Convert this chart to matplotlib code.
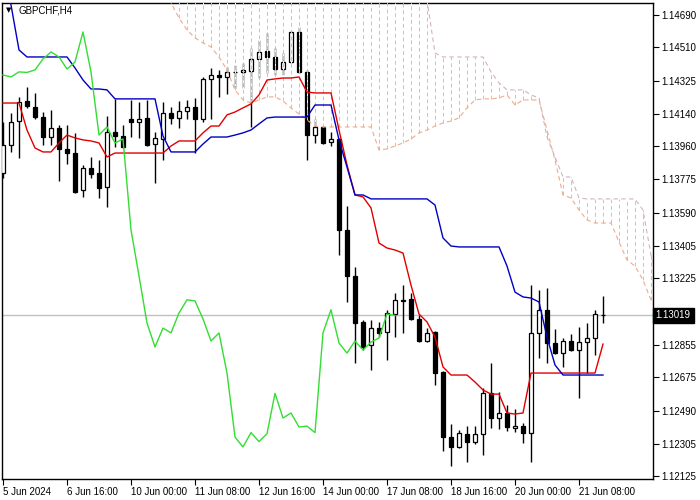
import numpy as np
import matplotlib
matplotlib.use("Agg")
import matplotlib.pyplot as plt
from matplotlib import transforms

# GBPCHF H4 candles
opens = [1.13811, 1.13967, 1.14100, 1.14211, 1.14178, 1.14122, 1.14011, 1.14061, 1.13945, 1.13922,
         1.13717, 1.13839, 1.13811, 1.13733, 1.14039, 1.14017, 1.14111, 1.14095, 1.14117, 1.13972,
         1.14000, 1.14145, 1.14117, 1.14156, 1.14178, 1.14111, 1.14334, 1.14356, 1.14345, 1.14373,
         1.14373, 1.14378, 1.14445, 1.14489, 1.14456, 1.14389, 1.14428, 1.14595, 1.14373, 1.14022,
         1.14067, 1.13984, 1.14000, 1.13495, 1.13239, 1.12983, 1.12855, 1.12949, 1.12927, 1.13027,
         1.13106, 1.13111, 1.13000, 1.12877, 1.12927, 1.12705, 1.12343, 1.12288, 1.12362, 1.12318,
         1.12362, 1.12586, 1.12449, 1.12477, 1.12393, 1.12404, 1.12368, 1.12922, 1.13051, 1.12866,
         1.12810, 1.12877, 1.12827, 1.12871, 1.12894, 1.13024]
highs = [1.14095, 1.14145, 1.14234, 1.14289, 1.14256, 1.14150, 1.14161, 1.14078, 1.14078, 1.14034,
         1.13856, 1.13900, 1.13884, 1.14128, 1.14223, 1.14078, 1.14218, 1.14206, 1.14218, 1.14039,
         1.14206, 1.14178, 1.14211, 1.14218, 1.14228, 1.14345, 1.14395, 1.14384, 1.14400, 1.14412,
         1.14423, 1.14506, 1.14551, 1.14590, 1.14506, 1.14478, 1.14601, 1.14623, 1.14384, 1.14111,
         1.14070, 1.14039, 1.14003, 1.13628, 1.13289, 1.12995, 1.12995, 1.12983, 1.13051, 1.13144,
         1.13188, 1.13144, 1.13022, 1.12949, 1.12930, 1.12708, 1.12416, 1.12384, 1.12407, 1.12407,
         1.12614, 1.12755, 1.12594, 1.12521, 1.12499, 1.12421, 1.13188, 1.13161, 1.13172, 1.12944,
         1.12894, 1.12916, 1.12955, 1.12977, 1.13051, 1.13127]
lows = [1.13783, 1.13928, 1.13895, 1.14173, 1.14111, 1.13967, 1.13967, 1.13768, 1.13861, 1.13700,
        1.13678, 1.13783, 1.13672, 1.13622, 1.13956, 1.13950, 1.14011, 1.14006, 1.13961, 1.13756,
        1.13884, 1.14084, 1.14061, 1.14111, 1.13922, 1.14095, 1.14111, 1.14234, 1.14250, 1.14284,
        1.14284, 1.14067, 1.14339, 1.14367, 1.14356, 1.14356, 1.14423, 1.14367, 1.13884, 1.13978,
        1.13972, 1.13961, 1.13355, 1.13094, 1.12755, 1.12829, 1.12717, 1.12899, 1.12773, 1.12899,
        1.12922, 1.12995, 1.12872, 1.12872, 1.12632, 1.12265, 1.12182, 1.12282, 1.12204, 1.12307,
        1.12246, 1.12393, 1.12388, 1.12377, 1.12371, 1.12310, 1.12204, 1.12783, 1.12755, 1.12805,
        1.12733, 1.12822, 1.12560, 1.12699, 1.12799, 1.12977]
closes = [1.13967, 1.14095, 1.14206, 1.14184, 1.14122, 1.14011, 1.14061, 1.13945, 1.13922, 1.13706,
          1.13839, 1.13806, 1.13728, 1.14039, 1.14017, 1.13956, 1.14095, 1.14111, 1.13967, 1.14006,
          1.14145, 1.14117, 1.14156, 1.14178, 1.14111, 1.14334, 1.14356, 1.14345, 1.14373, 1.14370,
          1.14384, 1.14445, 1.14484, 1.14456, 1.14389, 1.14428, 1.14595, 1.14373, 1.14022, 1.14067,
          1.13978, 1.14000, 1.13495, 1.13239, 1.12977, 1.12844, 1.12949, 1.12922, 1.13033, 1.13106,
          1.13100, 1.13000, 1.12877, 1.12922, 1.12699, 1.12343, 1.12288, 1.12368, 1.12318, 1.12362,
          1.12586, 1.12449, 1.12477, 1.12399, 1.12404, 1.12368, 1.12922, 1.13051, 1.12866, 1.12810,
          1.12877, 1.12827, 1.12871, 1.12894, 1.13027, 1.13019]

# ichimoku lines as drawn
tenkan = [1.14200, 1.14200, 1.14200, 1.14050, 1.13950, 1.13928, 1.13928, 1.13978, 1.14022, 1.14006,
          1.13995, 1.13989, 1.13978, 1.13900, 1.13922, 1.13922, 1.13922, 1.13922, 1.13922, 1.13922,
          1.13922, 1.13961, 1.13989, 1.13989, 1.13989, 1.14034, 1.14072, 1.14072, 1.14134, 1.14150,
          1.14173, 1.14195, 1.14245, 1.14328, 1.14334, 1.14339, 1.14339, 1.14345, 1.14261, 1.14256,
          1.14256, 1.14256, 1.14050, 1.13856, 1.13689, 1.13678, 1.13617, 1.13422, 1.13394, 1.13383,
          1.13366, 1.13188, 1.13027, 1.12983, 1.12899, 1.12733, 1.12688, 1.12688, 1.12688, 1.12649,
          1.12605, 1.12582, 1.12582, 1.12477, 1.12471, 1.12477, 1.12699, 1.12699, 1.12699, 1.12699,
          1.12699, 1.12699, 1.12699, 1.12699, 1.12699, 1.12860]
kijun = [1.14912, 1.14745, 1.14495, 1.14456, 1.14456, 1.14456, 1.14456, 1.14456, 1.14456, 1.14395,
         1.14328, 1.14278, 1.14278, 1.14273, 1.14223, 1.14223, 1.14223, 1.14223, 1.14223, 1.14223,
         1.14017, 1.13928, 1.13928, 1.13928, 1.13928, 1.13972, 1.14011, 1.14011, 1.14011, 1.14022,
         1.14034, 1.14050, 1.14084, 1.14117, 1.14122, 1.14122, 1.14122, 1.14122, 1.14122, 1.14189,
         1.14189, 1.14189, 1.13995, 1.13844, 1.13689, 1.13689, 1.13667, 1.13667, 1.13667, 1.13667,
         1.13667, 1.13667, 1.13667, 1.13667, 1.13633, 1.13450, 1.13405, 1.13400, 1.13400, 1.13400,
         1.13400, 1.13400, 1.13400, 1.13294, 1.13149, 1.13122, 1.13116, 1.13094, 1.12899, 1.12744,
         1.12688, 1.12688, 1.12688, 1.12688, 1.12688, 1.12688]
# cloud, from bar 20 to bar 82 (shifted 26 bars ahead)
cloud_start = 20
span_a = [1.14884, 1.14756, 1.14673, 1.14606, 1.14562, 1.14534, 1.14512, 1.14456, 1.14384, 1.14273,
          1.14217, 1.14200, 1.14217, 1.14234, 1.14234, 1.14211, 1.14173, 1.14139, 1.14106, 1.14072,
          1.14067, 1.14067, 1.14067, 1.14067, 1.14067, 1.14067, 1.14067, 1.13939, 1.13945, 1.13961,
          1.13978, 1.14000, 1.14034, 1.14050, 1.14072, 1.14089, 1.14100, 1.14117, 1.14173, 1.14217,
          1.14223, 1.14223, 1.14228, 1.14245, 1.14189, 1.14217, 1.14217, 1.14217, 1.14050, 1.13883,
          1.13689, 1.13672, 1.13605, 1.13550, 1.13533, 1.13533, 1.13533, 1.13428, 1.13327, 1.13294,
          1.13216, 1.13105, 1.13005]
span_b = [1.14940] * 33 + [
          1.14773, 1.14478, 1.14456, 1.14456, 1.14456, 1.14456, 1.14456, 1.14456, 1.14373, 1.14312,
          1.14273, 1.14273, 1.14273, 1.14245, 1.14228, 1.14011, 1.13900, 1.13789, 1.13789, 1.13672,
          1.13667, 1.13667, 1.13667, 1.13667, 1.13667, 1.13667, 1.13667, 1.13605, 1.13355, 1.13161]

last_price = 1.13019
price_ticks = [1.14690, 1.14510, 1.14325, 1.14140, 1.13960, 1.13775, 1.13590, 1.13405, 1.13225,
               1.13040, 1.12855, 1.12675, 1.12490, 1.12305, 1.12125]
date_labels = ["5 Jun 2024", "6 Jun 16:00", "10 Jun 00:00", "11 Jun 08:00", "12 Jun 16:00",
               "14 Jun 00:00", "17 Jun 08:00", "18 Jun 16:00", "20 Jun 00:00", "21 Jun 08:00"]

plt.rcParams['font.family'] = ['Liberation Sans', 'DejaVu Sans']

fig = plt.figure(figsize=(7, 5), dpi=100)
ax = fig.add_axes([2 / 700, 21 / 500, 651 / 700, 476 / 500])

o = np.array(opens); h = np.array(highs); l = np.array(lows); c = np.array(closes)
x = np.arange(len(o))
up = c >= o

# candles
ax.vlines(x, l, h, color='black', lw=1.0, zorder=2)
body_lo = np.minimum(o, c)
body_h = np.maximum(np.abs(c - o), 0.000005)
ax.bar(x[up], body_h[up], bottom=body_lo[up], width=0.55, color='white',
       edgecolor='black', linewidth=0.9, zorder=3)
ax.bar(x[~up], body_h[~up], bottom=body_lo[~up], width=0.55, color='black',
       edgecolor='black', linewidth=0.9, zorder=3)

# kumo hatch, dotted with white gaps (cuts through candles like MT4 does)
cx = np.arange(cloud_start, cloud_start + len(span_a))
sa = np.array(span_a); sb = np.array(span_b)
hatch = ax.vlines(cx, np.minimum(sa, sb), np.maximum(sa, sb), colors='#d8b9c2',
                  linewidth=0.7, linestyles=(0, (4, 3)), zorder=4)
hatch.set_gapcolor('white')
ax.plot(cx, sa, color='#eeab88', lw=0.8, ls=(0, (4, 3)), zorder=4)
ax.plot(cx, sb, color='#d3b3bb', lw=0.8, ls=(0, (4, 3)), zorder=4)

# current price line
ax.axhline(last_price, color='#c0c0c0', lw=1.0, zorder=1)

# tenkan, kijun, chikou
ax.plot(x, tenkan, color='#e00000', lw=1.0, zorder=5)
ax.plot(x, kijun, color='#0000c0', lw=1.0, zorder=5)
ax.plot(x[:len(c) - 26], c[26:], color='#33dd33', lw=1.0, zorder=5)

ax.set_xlim(-0.125, 81.25)
ax.set_ylim(1.12110, 1.14756)

ax.yaxis.tick_right()
ax.set_yticks(price_ticks)
# the 1.13040 label sits under the price tag
ax.set_yticklabels(["" if v == 1.13040 else f"{v:.5f}" for v in price_ticks])
ax.tick_params(axis='y', direction='out', length=4, width=0.8, pad=2, labelsize=7,
               colors='black')
ax.set_xticks(np.arange(0, 80, 8))
ax.set_xticklabels(date_labels, ha='left')
ax.tick_params(axis='x', direction='out', length=4, width=0.8, pad=2, labelsize=7)
for sp in ax.spines.values():
    sp.set_linewidth(1.0)
    sp.set_color('black')

# price tag on the right axis
trans = transforms.blended_transform_factory(ax.transAxes, ax.transData)
ax.text(1.004, last_price, "1.13019", transform=trans, ha='left', va='center',
        fontsize=7, color='white', zorder=10, clip_on=False,
        bbox=dict(boxstyle='square,pad=0.3', facecolor='black', edgecolor='black'))

# symbol caption
ax.text(0.006, 0.985, "\u25bc", transform=ax.transAxes, fontsize=5, va='center', ha='left',
        family='DejaVu Sans')
ax.text(0.026, 0.985, "GBPCHF,H4", transform=ax.transAxes, fontsize=7, va='center', ha='left')

fig.savefig("out.png", dpi=100)
